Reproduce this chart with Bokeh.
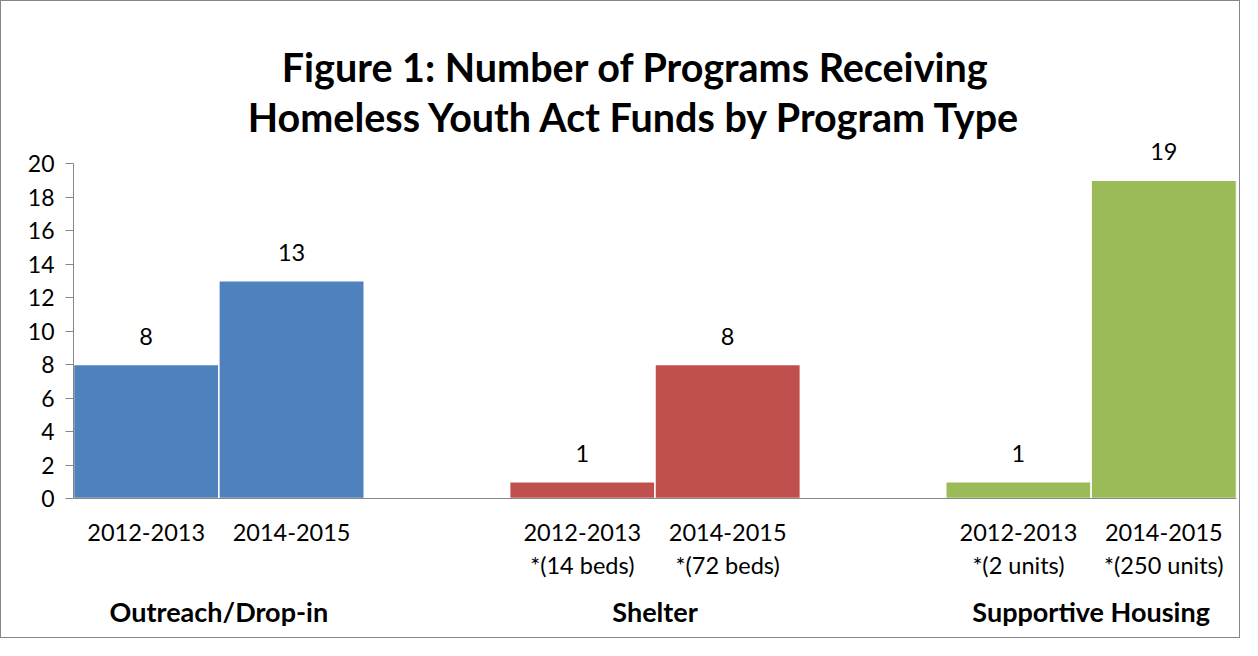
from bokeh.plotting import figure
from bokeh.models import FactorRange, Range1d, Label, LabelSet, ColumnDataSource, FixedTicker
from bokeh.embed import file_html
from bokeh.resources import INLINE
from bokeh.core.properties import value

FONT = "Lato"

title_lines = ["Figure 1: Number of Programs Receiving",
               "Homeless Youth Act Funds by Program Type"]
groups = ["Outreach/Drop-in", "Shelter", "Supportive Housing"]
periods = [
    ["2012-2013", "2014-2015"],
    ["2012-2013\n*(14 beds)", "2014-2015\n*(72 beds)"],
    ["2012-2013\n*(2 units)", "2014-2015\n*(250 units)"],
]
values = [[8, 13], [1, 8], [1, 19]]
colors = ["#4F81BD", "#C0504D", "#9BBB59"]
y_ticks = list(range(0, 21, 2))

x = [(g, per) for g, ps in zip(groups, periods) for per in ps]
counts = [v for vs in values for v in vs]
fill = [c for c in colors for _ in range(2)]
src = ColumnDataSource(dict(x=x, counts=counts, fill=fill, label=[str(v) for v in counts]))

W, H = 1240, 638
BORDER_L, BORDER_R, BORDER_B = 72, 5, 141
frame_h = H - BORDER_B
px_per_unit = 16.75
y_end = frame_h / px_per_unit

p = figure(
    x_range=FactorRange(*x, range_padding=0, factor_padding=0, group_padding=1.0),
    y_range=Range1d(0, y_end),
    width=W, height=H,
    min_border_left=BORDER_L, min_border_right=BORDER_R, min_border_top=0, min_border_bottom=BORDER_B,
    output_backend="svg", toolbar_location=None,
)
p.styles = {"border": "1px solid #868686"}

p.vbar(x="x", top="counts", width=1.0, source=src, fill_color="fill", line_color="white", line_width=1.5)

labels = LabelSet(x="x", y="counts", text="label", source=src, text_align="center",
                  text_baseline="alphabetic", y_offset=20, text_font=value(FONT),
                  text_font_size="23.5px", text_color="black")
p.add_layout(labels)

for line, base in zip(title_lines, [432, 382]):
    p.add_layout(Label(x=562, y=base, x_units="screen", y_units="screen", text=line,
                       text_align="center", text_baseline="alphabetic", text_font=FONT,
                       text_font_size="39.5px", text_font_style="bold", text_color="black"))

p.xgrid.grid_line_color = None
p.ygrid.grid_line_color = None
p.outline_line_color = None

ax = p.xaxis[0]
ax.axis_line_color = "#868686"
ax.major_tick_line_color = None
ax.minor_tick_line_color = None
ax.separator_line_color = None
ax.major_label_text_font = FONT
ax.major_label_text_font_size = "23.5px"
ax.major_label_text_color = "black"
ax.major_label_standoff = 13
ax.group_text_font = FONT
ax.group_text_font_size = "27px"
ax.group_text_font_style = "bold"
ax.group_text_color = "black"

ay = p.yaxis[0]
ay.ticker = FixedTicker(ticks=y_ticks)
ay.bounds = (0, 20)
ay.axis_line_color = "#868686"
ay.major_tick_line_color = "#868686"
ay.major_tick_out = 8
ay.major_tick_in = 0
ay.minor_tick_line_color = None
ay.major_label_standoff = 11
ay.major_label_text_font = FONT
ay.major_label_text_font_size = "23px"
ay.major_label_text_color = "black"

open("out.html", "w").write(file_html(p, INLINE))
